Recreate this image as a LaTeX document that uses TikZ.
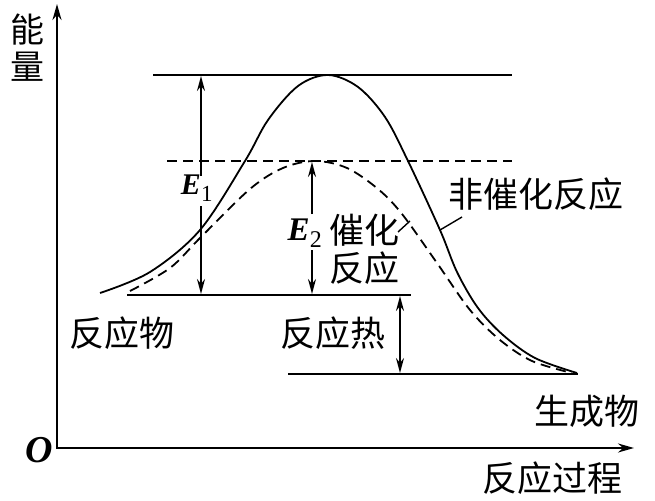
\documentclass[tikz,border=0pt]{standalone}
\usepackage{fontspec}
\setmainfont{Liberation Serif}
\newfontfamily\cjk{Noto Sans CJK SC}
\usetikzlibrary{arrows.meta}
\begin{document}
\begin{tikzpicture}[x=1pt,y=-1pt,
  axis/.style={line width=2.2pt,-{Stealth[length=16pt,width=9pt]}},
  lvl/.style={line width=2.2pt},
  dlvl/.style={line width=1.8pt,dash pattern=on 10pt off 6pt},
  curve/.style={line width=1.8pt},
  dcurve/.style={line width=1.8pt,dash pattern=on 10pt off 6pt},
  arr/.style={line width=1.7pt,-{Stealth[length=15pt,width=8pt]}},
  darr/.style={line width=1.7pt,{Stealth[length=15pt,width=8pt]}-{Stealth[length=15pt,width=8pt]}},
  zh/.style={font=\cjk\fontsize{35}{35}\selectfont,inner sep=0pt},
  ev/.style={font=\bfseries\itshape\fontsize{33}{33}\selectfont,inner sep=0pt},
  lead/.style={line width=1.4pt}]
\useasboundingbox (0,0) rectangle (655,500);
% axes
\coordinate (O) at (57,448);
\coordinate (ytop) at (57,4);
\coordinate (xend) at (634,448);
\draw[axis] (57,449) -- (ytop);
\draw[axis] (56,448) -- (xend);
\node[ev,font=\bfseries\itshape\fontsize{38}{38}\selectfont] (olab) at (39,450) {O};
\node[zh,font=\cjk\fontsize{34}{34}\selectfont] (neng) at (27,30) {能};
\node[zh,font=\cjk\fontsize{34}{34}\selectfont] (liang) at (27,67) {量};
% levels
\coordinate (topL) at (153,75);
\coordinate (topR) at (512,75);
\coordinate (dashL) at (167,161);
\coordinate (dashR) at (512,161);
\coordinate (reL) at (127,295);
\coordinate (reR) at (411,295);
\coordinate (prL) at (288,374);
\coordinate (prR) at (578,374);
\draw[lvl] (topL) -- (topR);
\draw[dlvl] (dashL) -- (dashR);
\draw[lvl] (reL) -- (reR);
\draw[lvl] (prL) -- (prR);
% curves
\draw[curve] plot[smooth,tension=0.55] coordinates {(100,293) (150,272) (200,230) (245,161) (268,120) (298,86) (328,75) (358,87) (385,117) (408,161) (440,230) (457,272) (478,308) (503,335) (535,358) (577,373)};
\draw[dcurve] plot[smooth,tension=0.55] coordinates {(130,291) (170,268) (200,238) (250,189) (283,168) (315,161) (347,168) (378,189) (402,214) (437,263) (470,310) (500,340) (532,361) (572,373)};
% E1
\node[ev,font=\bfseries\itshape\fontsize{30}{30}\selectfont] (E1) at (197,188) {E\textsubscript{\fontsize{23}{23}\selectfont\upshape\mdseries 1}};
\coordinate (e1a) at (201,176);
\coordinate (e1b) at (201,206);
\coordinate (e1top) at (201,76);
\coordinate (e1bot) at (201,294);
\draw[arr] (e1a) -- (e1top);
\draw[arr] (e1b) -- (e1bot);
% E2
\node[ev] (E2) at (305,233) {E\textsubscript{\fontsize{24}{24}\selectfont\upshape\mdseries 2}};
\coordinate (e2a) at (312,214);
\coordinate (e2b) at (312,250);
\coordinate (e2top) at (312,162);
\coordinate (e2bot) at (312,294);
\draw[arr] (e2a) -- (e2top);
\draw[arr] (e2b) -- (e2bot);
% heat
\coordinate (h1) at (400,296);
\coordinate (h2) at (400,373);
\draw[darr] (h1) -- (h2);
% labels
\node[zh] (cuihua) at (364,230) {催化};
\node[zh] (fanying) at (364,268) {反应};
\node[zh] (noncat) at (536,194) {非催化反应};
\node[zh] (reac) at (122,333) {反应物};
\node[zh] (heat) at (333,333) {反应热};
\node[zh] (prod) at (587,411) {生成物};
\node[zh] (proc) at (552,478) {反应过程};
% leaders
\coordinate (l1a) at (398,232);
\coordinate (l1b) at (410,221);
\draw[lead] (l1a) -- (l1b);
\coordinate (l2a) at (462,217);
\coordinate (l2b) at (440,230);
\draw[lead] (l2a) -- (l2b);
\end{tikzpicture}
\end{document}
